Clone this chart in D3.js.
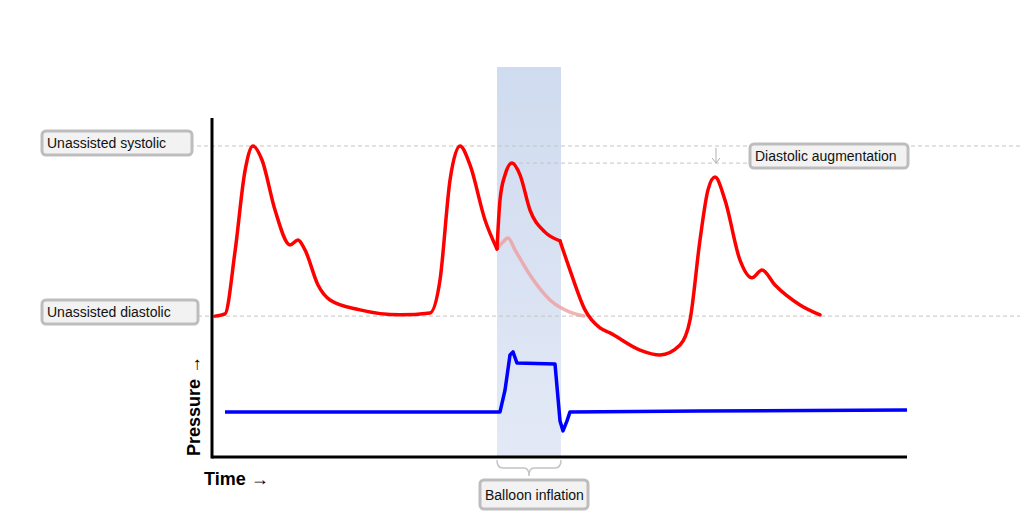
<!DOCTYPE html>
<html>
<head>
<meta charset="utf-8">
<script src="https://cdn.jsdelivr.net/npm/d3@7"></script>
<style>
  body { margin: 0; background: #fff; }
  text { font-family: "Liberation Sans", Arial, sans-serif; }
</style>
</head>
<body>
<svg id="chart" width="1023" height="525"></svg>
<script>
// time in arbitrary units (0..695), pressure 0 = axis, 100 = unassisted systolic
var systolic = 100, diastolic = 45.3, augmented = 94.5;
var balloon = [285, 349];

// arterial pressure, split at the sharp corners (inflation / deflation)
var pressureA = [[3,45.3],[13,46],[23,66],[33,92],[41,100],[50,95.5],[63,79.4],[78,68.2],[86,69.8],[93,66.6],[106,55.3],[118,50.5],[148,47.3],[188,45.7],[218,46.3],[228,56.9],[238,89],[248,100],[258,93.9],[273,76.2],[285,66.9]];
var pressureB = [[285,66.9],[288,82.6],[293,90.7],[300,94.5],[308,90.7],[318,79.4],[333,72.3],[348,69.5]];
var pressureC = [[348,69.5],[358,60.1],[373,47.3],[388,41.5],[398,39.9],[428,34.4],[448,32.8],[468,36],[478,44],[488,69.8],[496,85.9],[503,90],[513,82.6],[528,63.3],[540,57.6],[550,60.1],[563,55.3],[588,48.9],[608,45.7]];
// unassisted continuation (faded)
var pressureGhost = [[285,66.9],[291,69.1],[296,70.4],[303,66.6],[318,58.5],[338,50.5],[358,46.6],[373,45.3]];
// balloon pressure
var balloonP = [[13,14.5],[258,14.5],[288,14.5],[293,21.5],[298,32.8],[301,33.8],[305,30.2],[343,29.9],[348,11.6],[351,8.4],[355,11.6],[358,14.5],[488,14.8],[695,15.1]];

var svg = d3.select("#chart");
var x = d3.scaleLinear().domain([0, 695]).range([212, 907]);
var y = d3.scaleLinear().domain([0, 100]).range([457, 146]);

var defs = svg.append("defs");
var grad = defs.append("linearGradient").attr("id", "band").attr("x1", 0).attr("y1", 0).attr("x2", 0).attr("y2", 1);
grad.append("stop").attr("offset", "0%").attr("stop-color", "#cfdbef");
grad.append("stop").attr("offset", "100%").attr("stop-color", "#e3e9f6");

svg.append("rect")
  .attr("x", x(balloon[0])).attr("y", 67)
  .attr("width", x(balloon[1]) - x(balloon[0])).attr("height", y(0) - 67)
  .attr("fill", "url(#band)");

// reference lines
function hline(v, x1, x2) {
  svg.append("line")
    .attr("x1", x1).attr("x2", x2).attr("y1", y(v)).attr("y2", y(v))
    .attr("stroke", "#c4c4c4").attr("stroke-dasharray", "4,3");
}
hline(systolic, 190, 1020);
hline(diastolic, 198, 1020);
hline(augmented, x(300), 752);

// augmentation arrow
svg.append("line").attr("x1", 716).attr("x2", 716).attr("y1", y(systolic) + 2).attr("y2", y(augmented) - 1)
  .attr("stroke", "#b0b0b0");
svg.append("path").attr("d", "M712,158 L716,163 L720,158").attr("fill", "none").attr("stroke", "#b0b0b0");

var line = d3.line().curve(d3.curveMonotoneX)
  .x(function(d) { return x(d[0]); })
  .y(function(d) { return y(d[1]); });

svg.append("path").attr("d", line(pressureGhost))
  .attr("fill", "none").attr("stroke", "#ee9a9a").attr("stroke-opacity", 0.75).attr("stroke-width", 3.5);

[pressureA, pressureB, pressureC].forEach(function(seg) {
  svg.append("path").attr("d", line(seg))
    .attr("fill", "none").attr("stroke", "#ff0000").attr("stroke-width", 3.5)
    .attr("stroke-linejoin", "round").attr("stroke-linecap", "round");
});

svg.append("path").attr("d", d3.line().curve(d3.curveLinear)
    .x(function(d) { return x(d[0]); }).y(function(d) { return y(d[1]); })(balloonP))
  .attr("fill", "none").attr("stroke", "#0000ff").attr("stroke-width", 3.5)
  .attr("stroke-linejoin", "round");

// axes
svg.append("line").attr("x1", x(0)).attr("x2", x(0)).attr("y1", 118).attr("y2", y(0) + 1.5)
  .attr("stroke", "#000").attr("stroke-width", 3);
svg.append("line").attr("x1", x(0)).attr("x2", x(695)).attr("y1", y(0)).attr("y2", y(0))
  .attr("stroke", "#000").attr("stroke-width", 3);

svg.append("text").attr("x", 204).attr("y", 485)
  .attr("font-size", 18).attr("font-weight", "bold").text("Time \u2192");
svg.append("text").attr("transform", "translate(200,456) rotate(-90)")
  .attr("font-size", 18).attr("font-weight", "bold").text("Pressure \u2192");

// brace under balloon band
var bx0 = x(balloon[0]), bx1 = x(balloon[1]), bm = (bx0 + bx1) / 2;
svg.append("path")
  .attr("d", "M" + bx0 + ",460 Q" + bx0 + ",468 " + (bx0 + 6) + ",468 L" + (bm - 5) + ",468 Q" + bm + ",468 " + bm + ",476 Q" + bm + ",468 " + (bm + 5) + ",468 L" + (bx1 - 6) + ",468 Q" + bx1 + ",468 " + bx1 + ",460")
  .attr("fill", "none").attr("stroke", "#c4c4c4").attr("stroke-width", 1.5);

// labels
var labels = [
  { text: "Unassisted systolic", x: 42, y: 131, w: 150, h: 24 },
  { text: "Unassisted diastolic", x: 42, y: 300, w: 156, h: 24 },
  { text: "Diastolic augmentation", x: 750, y: 144, w: 158, h: 24 },
  { text: "Balloon inflation", x: 480, y: 480, w: 108, h: 29 }
];
labels.forEach(function(l) {
  svg.append("rect").attr("x", l.x).attr("y", l.y).attr("width", l.w).attr("height", l.h)
    .attr("rx", 4).attr("fill", "#f2f2f2").attr("stroke", "#bdbdbd").attr("stroke-width", 3);
  svg.append("text").attr("x", l.x + 5).attr("y", l.y + l.h / 2 + 5)
    .attr("font-size", 14).attr("fill", "#111").text(l.text);
});
</script>
</body>
</html>
